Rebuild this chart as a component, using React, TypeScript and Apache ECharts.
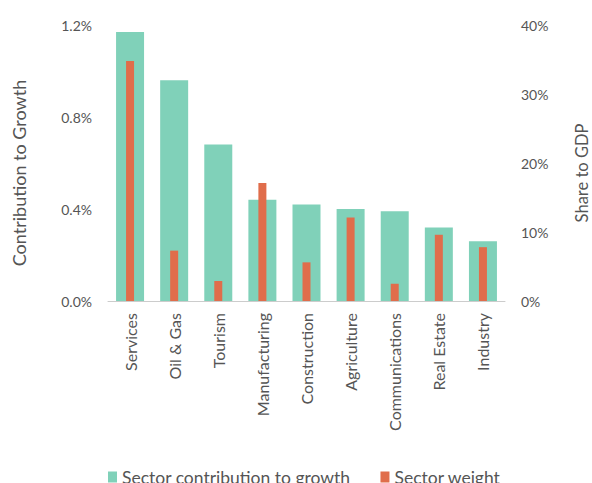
import React, { useEffect, useRef } from "react";
import * as echarts from "echarts";

const categories = [
  "Services",
  "Oil & Gas",
  "Tourism",
  "Manufacturing",
  "Construction",
  "Agriculture",
  "Communications",
  "Real Estate",
  "Industry",
];
const contribution = [1.17, 0.96, 0.68, 0.44, 0.42, 0.4, 0.39, 0.32, 0.26];
const weight = [34.8, 7.3, 2.9, 17.1, 5.6, 12.1, 2.5, 9.6, 7.8];
const leftTicks = [0, 0.4, 0.8, 1.2];
const rightTicks = [0, 10, 20, 30, 40];

const FONT = "Lato, 'Noto Sans', sans-serif";
const TXT = "#555555";

export default function App() {
  const ref = useRef<HTMLDivElement>(null);
  useEffect(() => {
    document.body.style.margin = "0";
    if (!ref.current) return;
    const chart = echarts.init(ref.current, null, { renderer: "svg" });
    chart.setOption({
      animation: false,
      textStyle: { fontFamily: FONT },
      grid: { left: 108, right: 87, top: 25, bottom: 182 },
      legend: {
        top: 463,
        left: 103,
        itemWidth: 9,
        itemHeight: 11,
        itemGap: 30,
        icon: "rect",
        textStyle: { fontSize: 17.5, color: TXT, fontFamily: FONT },
        data: ["Sector contribution to growth", "Sector weight"],
      },
      xAxis: [
        {
          type: "category",
          data: categories,
          axisLine: { lineStyle: { color: "#cccccc" } },
          axisTick: { show: false },
          axisLabel: { rotate: 90, fontSize: 16, color: TXT, margin: 12, fontFamily: FONT },
        },
        {
          type: "category",
          data: categories,
          show: false,
        },
      ],
      yAxis: [
        {
          type: "value",
          min: leftTicks[0],
          max: leftTicks[leftTicks.length - 1],
          interval: 0.4,
          splitLine: { show: false },
          axisLine: { show: false },
          axisTick: { show: false },
          axisLabel: {
            fontSize: 14,
            color: TXT,
            margin: 16,
            fontFamily: FONT,
            formatter: (v: number) => v.toFixed(1) + "%",
          },
        },
        {
          type: "value",
          min: rightTicks[0],
          max: rightTicks[rightTicks.length - 1],
          interval: 10,
          splitLine: { show: false },
          axisLine: { show: false },
          axisTick: { show: false },
          axisLabel: {
            fontSize: 14,
            color: TXT,
            margin: 16,
            fontFamily: FONT,
            formatter: (v: number) => v + "%",
          },
        },
      ],
      graphic: [
        {
          type: "text",
          x: 19,
          y: 173,
          rotation: Math.PI / 2,
          style: {
            text: "Contribution to Growth",
            fontSize: 18,
            fill: TXT,
            fontFamily: FONT,
            align: "center",
            verticalAlign: "middle",
          },
        },
        {
          type: "text",
          x: 582,
          y: 173,
          rotation: Math.PI / 2,
          style: {
            text: "Share to GDP",
            fontSize: 16.5,
            fill: TXT,
            fontFamily: FONT,
            align: "center",
            verticalAlign: "middle",
          },
        },
      ],
      series: [
        {
          name: "Sector contribution to growth",
          type: "bar",
          xAxisIndex: 0,
          yAxisIndex: 0,
          data: contribution,
          barWidth: 28,
          itemStyle: { color: "#80d1b9" },
        },
        {
          name: "Sector weight",
          type: "bar",
          xAxisIndex: 1,
          yAxisIndex: 1,
          data: weight,
          barWidth: 8,
          itemStyle: { color: "#e06d4b" },
        },
      ],
    });
    return () => chart.dispose();
  }, []);
  return <div ref={ref} style={{ width: 592, height: 483 }} />;
}
